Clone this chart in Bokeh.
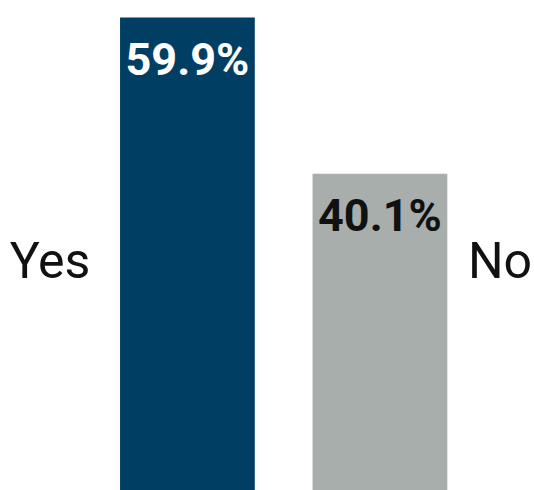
from bokeh.plotting import figure
from bokeh.models import Range1d, ColumnDataSource
from bokeh.core.properties import value
from bokeh.embed import file_html
from bokeh.resources import INLINE

categories = ["Yes", "No"]
values = [59.9, 40.1]
value_labels = ["59.9%", "40.1%"]
bar_colors = ["#003F63", "#A7AEAC"]
label_colors = ["#FFFFFF", "#111111"]

FONT = "Roboto"

idx = list(range(len(categories)))
src = ColumnDataSource(dict(x=idx, top=values, cat=categories, lab=value_labels,
                            color=bar_colors, tcolor=label_colors))

p = figure(width=534, height=490, output_backend="svg", toolbar_location=None,
           x_range=Range1d(-0.971, 1.803), y_range=Range1d(0, 62.05),
           min_border=0, min_border_left=0, min_border_right=0,
           min_border_top=0, min_border_bottom=0)
p.axis.visible = False
p.grid.visible = False
p.outline_line_color = None
p.background_fill_color = "white"
p.border_fill_color = "white"

p.vbar(x="x", top="top", bottom=0, width=0.70, color="color", line_color=None, source=src)

p.text(x="x", y="top", text="lab", text_color="tcolor", source=src,
       text_align="center", text_baseline="middle", y_offset=42,
       text_font=value(FONT), text_font_size="45px", text_font_style="bold")

# category labels: Yes left of its bar, No right of its bar
p.text(x=[idx[0]], y=[29.0], text=[categories[0]], x_offset=-97,
       text_align="right", text_baseline="middle",
       text_font=value(FONT), text_font_size="50px", text_color="#111111")
p.text(x=[idx[1]], y=[29.0], text=[categories[1]], x_offset=88,
       text_align="left", text_baseline="middle",
       text_font=value(FONT), text_font_size="50px", text_color="#111111")

open("out.html", "w").write(file_html(p, INLINE))
